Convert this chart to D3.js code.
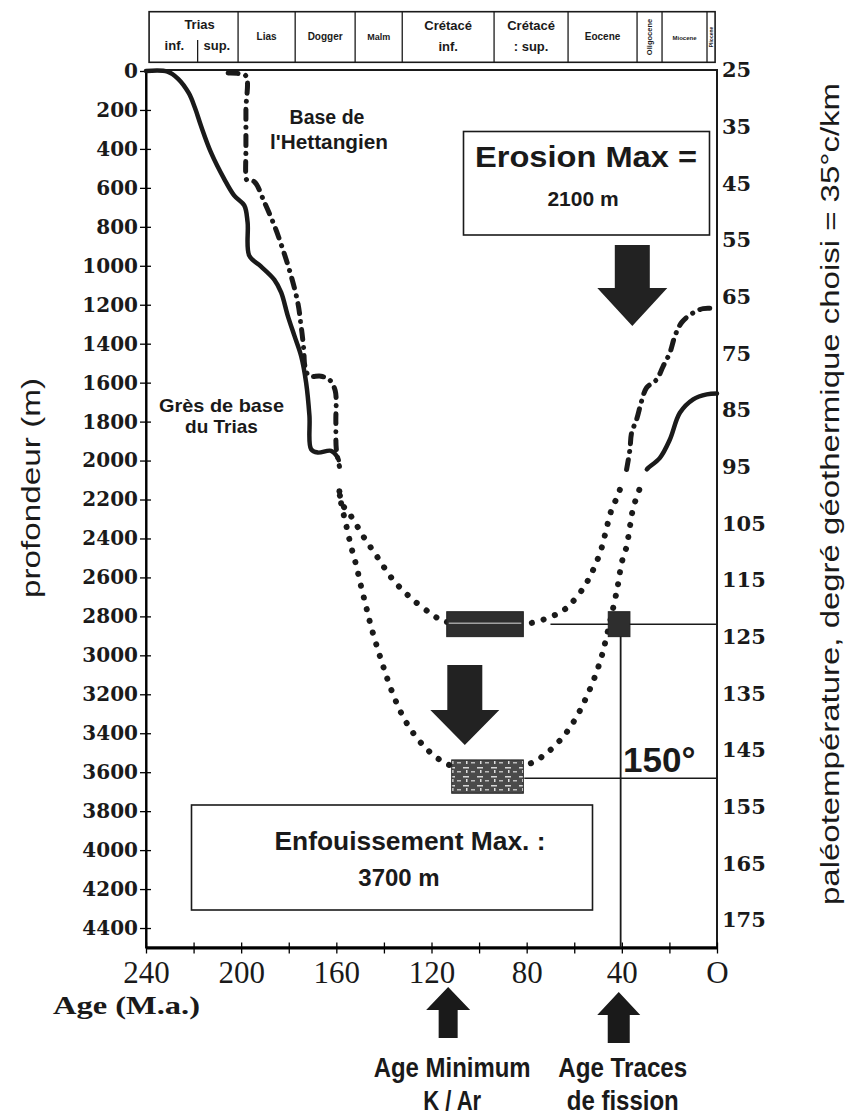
<!DOCTYPE html>
<html lang="fr">
<head>
<meta charset="UTF-8">
<title>Histoire d'enfouissement</title>
<script src="https://cdn.jsdelivr.net/npm/d3@7"></script>
<style>
  body { margin: 0; background: #fff; }
  svg { display: block; }
  .sans { font-family: "Liberation Sans", Arial, sans-serif; font-weight: bold; fill: #1a1a1a; }
  .narrow { font-family: "Liberation Sans Narrow", "Liberation Sans", Arial, sans-serif; fill: #1a1a1a; }
</style>
</head>
<body>
<script>
// ages (Ma) and depths (m)
let triasLeft = [[240, 0], [231, 3], [226.5, 40], [222, 114], [219.4, 190], [216.9, 281], [212.7, 418],
  [207.1, 555], [202.9, 640], [198.7, 690], [197.3, 777], [196.6, 948], [191.7, 1003], [186.1, 1071],
  [183.2, 1137], [180.4, 1257], [177.6, 1360], [174.8, 1463], [172.7, 1600], [171.3, 1771],
  [170.6, 1942], [167.8, 1959], [162.2, 1950], [159.4, 1985], [159, 1998]];
let triasRight = [[29.5, 2045], [28.9, 2037], [24, 1986], [19.8, 1892], [15.6, 1755], [10, 1686],
  [4.3, 1660], [0, 1656]];
let hettLeft = [[205.5, 10], [201.5, 12], [198, 25], [198, 200], [198, 400], [198, 540], [197.5, 562],
  [194.5, 568], [190.2, 675], [186, 795], [182.5, 915], [179, 1052], [176.2, 1189], [174.8, 1309],
  [173.7, 1429], [173.2, 1515], [171.5, 1565], [166.5, 1567], [163, 1584], [160.5, 1640],
  [160.2, 1800], [160, 1943], [158.7, 2030]];
let hettRight = [[38, 2046], [36.6, 1943], [35.9, 1858], [33.8, 1789], [31.7, 1695], [29.6, 1626],
  [25.4, 1584], [22.6, 1515], [19.8, 1446], [17.7, 1361], [14.9, 1292], [10, 1241], [5.8, 1220],
  [0.8, 1220]];
let burial2800 = [[158.5, 2180], [156.6, 2243], [153.8, 2286], [148.2, 2398], [142.5, 2500],
  [136.2, 2612], [128.6, 2706], [119.5, 2792], [114.6, 2826], [97, 2835], [78.7, 2835], [69.5, 2800],
  [65.3, 2775], [61.8, 2740], [56.2, 2655], [52, 2560], [48.5, 2449], [46.4, 2346], [44.3, 2252],
  [41.5, 2175], [40.5, 2135]];
let burial3700 = [[158.7, 2158], [158, 2218], [155.9, 2329], [153.8, 2441], [151.7, 2535],
  [149.6, 2646], [147.5, 2749], [145.4, 2852], [142.5, 2972], [139.8, 3075], [136.9, 3177],
  [132.7, 3297], [128.6, 3383], [123, 3469], [117.4, 3529], [112.5, 3563], [96, 3610], [78.2, 3554],
  [71.7, 3503], [64.6, 3417], [59, 3315], [54.8, 3212], [51.3, 3109], [48.5, 3006], [46.4, 2903],
  [42.9, 2715], [41.5, 2629], [40.1, 2526], [38, 2441], [36.6, 2338], [35.2, 2243], [32.4, 2141]];

// dated samples: [age from, age to, depth from, depth to]
let boxKAr = [113.6, 81.4, 2776, 2904];
let boxMax = [111.5, 81.4, 3537, 3708];
let boxFission = [45.7, 36.6, 2776, 2904];

// stratigraphic header
let periodBounds = [238.7, 201.3, 177.3, 152.1, 132.3, 93.7, 62.6, 33.6, 23.1, 4.2, 0.8];
let periodNames = [['Trias'], ['Lias'], ['Dogger'], ['Malm'], ['Crétacé', 'inf.'], ['Crétacé', ': sup.'],
  ['Eocene'], ['Oligocene'], ['Miocene'], ['Pliocene']];
let triasSplit = 218.3;

let depthTicks = d3.range(0, 4401, 200);
let ageTicks = d3.range(240, -1, -20);
let tempTicks = d3.range(25, 176, 10);

let width = 848;
let height = 1117;

let x = d3.scaleLinear().domain([240, 0]).range([146, 717]);
let y = d3.scaleLinear().domain([0, 4500]).range([71, 947.5]);
let t = d3.scaleLinear().domain([25, 175]).range([70, 920]);

let svg = d3.select('body').append('svg')
  .attr('width', width)
  .attr('height', height);

// header table
let head = svg.append('g');
let hTop = 11.7, hBot = 62.3;
head.append('rect')
  .attr('x', x(periodBounds[0])).attr('y', hTop)
  .attr('width', x(periodBounds[periodBounds.length - 1]) - x(periodBounds[0]))
  .attr('height', hBot - hTop)
  .attr('fill', 'none').attr('stroke', '#1a1a1a').attr('stroke-width', 1.6);
head.selectAll('line.div')
  .data(periodBounds.slice(1, -1))
  .enter().append('line')
  .attr('x1', d => x(d)).attr('x2', d => x(d))
  .attr('y1', hTop).attr('y2', hBot)
  .attr('stroke', '#1a1a1a').attr('stroke-width', 1.3);
head.append('line')
  .attr('x1', x(triasSplit)).attr('x2', x(triasSplit))
  .attr('y1', 40).attr('y2', hBot)
  .attr('stroke', '#1a1a1a').attr('stroke-width', 1.3);

let headSizes = [13, 10, 10, 9, 13, 13, 10, 7.5, 6, 5];
periodNames.forEach(function (lines, i) {
  let cx = (x(periodBounds[i]) + x(periodBounds[i + 1])) / 2;
  let fs = headSizes[i];
  if (lines[0] === 'Oligocene' || lines[0] === 'Pliocene') {
    head.append('text').attr('class', 'sans')
      .attr('transform', 'translate(' + (cx + fs * 0.35) + ',' + (hTop + hBot) / 2 + ') rotate(-90)')
      .attr('text-anchor', 'middle').attr('font-size', fs)
      .text(lines[0]);
  } else if (lines.length === 2) {
    head.append('text').attr('class', 'sans').attr('x', cx).attr('y', 30)
      .attr('text-anchor', 'middle').attr('font-size', fs).text(lines[0]);
    head.append('text').attr('class', 'sans').attr('x', cx).attr('y', 51)
      .attr('text-anchor', 'middle').attr('font-size', fs).text(lines[1]);
  } else if (lines[0] === 'Trias') {
    head.append('text').attr('class', 'sans').attr('x', cx + 6).attr('y', 29)
      .attr('text-anchor', 'middle').attr('font-size', fs).text('Trias');
    head.append('text').attr('class', 'sans').attr('x', (x(periodBounds[0]) + x(triasSplit)) / 2 + 1).attr('y', 50)
      .attr('text-anchor', 'middle').attr('font-size', fs).text('inf.');
    head.append('text').attr('class', 'sans').attr('x', (x(triasSplit) + x(periodBounds[1])) / 2 - 1).attr('y', 50)
      .attr('text-anchor', 'middle').attr('font-size', fs).text('sup.');
  } else {
    head.append('text').attr('class', 'sans').attr('x', cx).attr('y', 40)
      .attr('text-anchor', 'middle').attr('font-size', fs).text(lines[0]);
  }
});

// frame
svg.append('rect')
  .attr('x', x(240)).attr('y', 70)
  .attr('width', x(0) - x(240)).attr('height', y(4500) - 70)
  .attr('fill', 'none').attr('stroke', '#1a1a1a').attr('stroke-width', 2);

// axes
let yAxis = d3.axisLeft(y).tickValues(depthTicks).tickSize(5).tickPadding(3).tickSizeOuter(0)
  .tickFormat(d3.format('d'));
svg.append('g')
  .attr('transform', 'translate(' + x(240) + ',0)')
  .call(yAxis)
  .call(g => g.select('.domain').attr('stroke-width', 2))
  .call(g => g.selectAll('.tick line').attr('x2', 5).attr('x1', -6).attr('stroke-width', 1.3))
  .call(g => g.selectAll('.tick text')
    .attr('font-family', '"DejaVu Serif", serif').attr('font-weight', 'bold')
    .attr('font-size', 20).attr('fill', '#1a1a1a').attr('x', -8));

let xAxis = d3.axisBottom(x).tickValues(ageTicks).tickSize(6).tickSizeOuter(0)
  .tickFormat(d => d % 40 === 0 ? (d === 0 ? 'O' : d) : '');
svg.append('g')
  .attr('transform', 'translate(0,' + y(4500) + ')')
  .call(xAxis)
  .call(g => g.select('.domain').attr('stroke-width', 3))
  .call(g => g.selectAll('.tick line').attr('y1', -5).attr('y2', 6).attr('stroke-width', 1.3))
  .call(g => g.selectAll('.tick text')
    .attr('font-family', '"Liberation Serif", "Times New Roman", serif')
    .attr('font-size', 31).attr('fill', '#1a1a1a').attr('y', 35).attr('dy', 0));

let tAxis = d3.axisRight(t).tickValues(tempTicks).tickSize(0).tickPadding(5);
svg.append('g')
  .attr('transform', 'translate(' + x(0) + ',0)')
  .call(tAxis)
  .call(g => g.select('.domain').remove())
  .call(g => g.selectAll('.tick text')
    .attr('font-family', '"DejaVu Serif", serif').attr('font-weight', 'bold')
    .attr('font-size', 21).attr('fill', '#1a1a1a'));

// axis titles
svg.append('text').attr('class', 'narrow')
  .attr('transform', 'translate(40,488) rotate(-90)')
  .attr('text-anchor', 'middle').attr('font-size', 26)
  .attr('textLength', 220).attr('lengthAdjust', 'spacingAndGlyphs')
  .text('profondeur (m)');
svg.append('text').attr('class', 'narrow')
  .attr('transform', 'translate(839,494) rotate(-90)')
  .attr('text-anchor', 'middle').attr('font-size', 26)
  .attr('textLength', 822).attr('lengthAdjust', 'spacingAndGlyphs')
  .text('paléotempérature, degré géothermique choisi = 35°c/km');
svg.append('text')
  .attr('x', 53).attr('y', 1014)
  .attr('font-family', '"Liberation Serif", "Times New Roman", serif')
  .attr('font-weight', 'bold').attr('font-size', 26).attr('fill', '#1a1a1a')
  .attr('textLength', 147).attr('lengthAdjust', 'spacingAndGlyphs')
  .text('Age (M.a.)');

// reference lines: 2800 m sample, 150 °C isotherm, fission-track age
let refDepth = (boxKAr[2] + boxKAr[3]) / 2;
svg.append('line')
  .attr('x1', x(70)).attr('x2', x(0)).attr('y1', y(refDepth)).attr('y2', y(refDepth))
  .attr('stroke', '#1a1a1a').attr('stroke-width', 1.5);
svg.append('line')
  .attr('x1', x(81)).attr('x2', x(0)).attr('y1', t(150)).attr('y2', t(150))
  .attr('stroke', '#1a1a1a').attr('stroke-width', 1.5);
svg.append('line')
  .attr('x1', x(40.5)).attr('x2', x(40.5)).attr('y1', y(refDepth)).attr('y2', y(4500))
  .attr('stroke', '#1a1a1a').attr('stroke-width', 1.8);

// curves
let line = d3.line()
  .x(d => x(d[0]))
  .y(d => y(d[1]))
  .curve(d3.curveCatmullRom.alpha(0.5));

let dotted = [burial2800, burial3700];
svg.selectAll('path.dots')
  .data(dotted)
  .enter().append('path')
  .attr('d', d => line(d))
  .attr('fill', 'none').attr('stroke', '#1a1a1a')
  .attr('stroke-width', 6).attr('stroke-linecap', 'round')
  .attr('stroke-dasharray', '0.1 12');

svg.selectAll('path.dashdot')
  .data([hettLeft, hettRight])
  .enter().append('path')
  .attr('d', d => line(d))
  .attr('fill', 'none').attr('stroke', '#1a1a1a')
  .attr('stroke-width', 5).attr('stroke-linecap', 'round')
  .attr('stroke-dasharray', '10 8 0.1 8');

svg.selectAll('path.solid')
  .data([triasLeft, triasRight])
  .enter().append('path')
  .attr('d', d => line(d))
  .attr('fill', 'none').attr('stroke', '#1a1a1a')
  .attr('stroke-width', 4.5).attr('stroke-linejoin', 'round').attr('stroke-linecap', 'round');

// dated samples
let defs = svg.append('defs');
let pat = defs.append('pattern').attr('id', 'speckle')
  .attr('patternUnits', 'userSpaceOnUse').attr('width', 14).attr('height', 9);
pat.append('rect').attr('width', 14).attr('height', 9).attr('fill', '#4a4a4a');
pat.append('rect').attr('x', 1).attr('y', 2).attr('width', 6).attr('height', 1.5).attr('fill', '#d8d8d8');
pat.append('rect').attr('x', 9).attr('y', 6).attr('width', 4).attr('height', 1.5).attr('fill', '#bdbdbd');
pat.append('rect').attr('x', 4).attr('y', 5).attr('width', 1.5).attr('height', 3).attr('fill', '#e0e0e0');

function sampleBox(b, fill) {
  return svg.append('rect')
    .attr('x', x(b[0])).attr('y', y(b[2]))
    .attr('width', x(b[1]) - x(b[0])).attr('height', y(b[3]) - y(b[2]))
    .attr('fill', fill).attr('stroke', '#222').attr('stroke-width', 1);
}
sampleBox(boxKAr, '#2e2e2e');
svg.append('line')
  .attr('x1', x(boxKAr[0]) + 2).attr('x2', x(boxKAr[1]) - 2)
  .attr('y1', y(refDepth) - 1).attr('y2', y(refDepth) - 1)
  .attr('stroke', '#ddd').attr('stroke-width', 1);
sampleBox(boxMax, 'url(#speckle)');
sampleBox(boxFission, '#2e2e2e');

// arrows
function arrowPath(cx, yTail, yTip, shaftW, headW, headH) {
  let dir = yTip > yTail ? 1 : -1;
  let yBase = yTip - dir * headH;
  return 'M' + (cx - shaftW / 2) + ',' + yTail +
    'L' + (cx + shaftW / 2) + ',' + yTail +
    'L' + (cx + shaftW / 2) + ',' + yBase +
    'L' + (cx + headW / 2) + ',' + yBase +
    'L' + cx + ',' + yTip +
    'L' + (cx - headW / 2) + ',' + yBase +
    'L' + (cx - shaftW / 2) + ',' + yBase + 'Z';
}
svg.append('path')
  .attr('d', arrowPath(x(35.6), y(893), y(1309), 35, 70, 38))
  .attr('fill', '#222');
svg.append('path')
  .attr('d', arrowPath(x(106), y(3050), y(3460), 35, 69, 35))
  .attr('fill', '#222');
svg.append('path')
  .attr('d', arrowPath(x(113), 1038, 987, 19, 44, 23))
  .attr('fill', '#1a1a1a');
svg.append('path')
  .attr('d', arrowPath(x(41.3), 1043, 992, 22, 43, 23))
  .attr('fill', '#1a1a1a');

// annotation boxes
svg.append('rect')
  .attr('x', 463.5).attr('y', 131.5).attr('width', 246).attr('height', 103.5)
  .attr('fill', 'none').attr('stroke', '#1a1a1a').attr('stroke-width', 1.6);
svg.append('text').attr('class', 'sans')
  .attr('x', 586).attr('y', 167).attr('text-anchor', 'middle').attr('font-size', 30)
  .attr('textLength', 222).attr('lengthAdjust', 'spacingAndGlyphs')
  .text('Erosion Max =');
svg.append('text').attr('class', 'sans')
  .attr('x', 583).attr('y', 206).attr('text-anchor', 'middle').attr('font-size', 21)
  .text('2100 m');

svg.append('rect')
  .attr('x', 191.5).attr('y', 805).attr('width', 401).attr('height', 105)
  .attr('fill', 'none').attr('stroke', '#1a1a1a').attr('stroke-width', 1.6);
svg.append('text').attr('class', 'sans')
  .attr('x', 410).attr('y', 850).attr('text-anchor', 'middle').attr('font-size', 25)
  .attr('textLength', 271).attr('lengthAdjust', 'spacingAndGlyphs')
  .text('Enfouissement  Max. :');
svg.append('text').attr('class', 'sans')
  .attr('x', 399).attr('y', 886).attr('text-anchor', 'middle').attr('font-size', 24)
  .text('3700 m');

// labels
svg.append('text').attr('class', 'sans')
  .attr('x', 623).attr('y', 772).attr('font-size', 35)
  .text('150°');
svg.append('text').attr('class', 'sans')
  .attr('x', 327).attr('y', 124).attr('text-anchor', 'middle').attr('font-size', 19.5)
  .text('Base de');
svg.append('text').attr('class', 'sans')
  .attr('x', 329).attr('y', 149).attr('text-anchor', 'middle').attr('font-size', 19.5)
  .attr('textLength', 118).attr('lengthAdjust', 'spacingAndGlyphs')
  .text("l'Hettangien");
svg.append('text').attr('class', 'sans')
  .attr('x', 221.5).attr('y', 412).attr('text-anchor', 'middle').attr('font-size', 19)
  .attr('textLength', 125).attr('lengthAdjust', 'spacingAndGlyphs')
  .text('Grès de base');
svg.append('text').attr('class', 'sans')
  .attr('x', 221.5).attr('y', 433).attr('text-anchor', 'middle').attr('font-size', 19)
  .text('du Trias');

let dates = [
  {age: 113, lines: ['Age Minimum', 'K / Ar'], w: [157, 58]},
  {age: 41.3, lines: ['Age Traces', 'de fission'], w: [129, 112]}
];
dates.forEach(function (d) {
  d.lines.forEach(function (s, i) {
    svg.append('text').attr('class', 'narrow')
      .attr('font-weight', 'bold')
      .attr('x', x(d.age) + 4).attr('y', 1077 + i * 33)
      .attr('text-anchor', 'middle').attr('font-size', 27)
      .attr('textLength', d.w[i]).attr('lengthAdjust', 'spacingAndGlyphs')
      .text(s);
  });
});
</script>
</body>
</html>
